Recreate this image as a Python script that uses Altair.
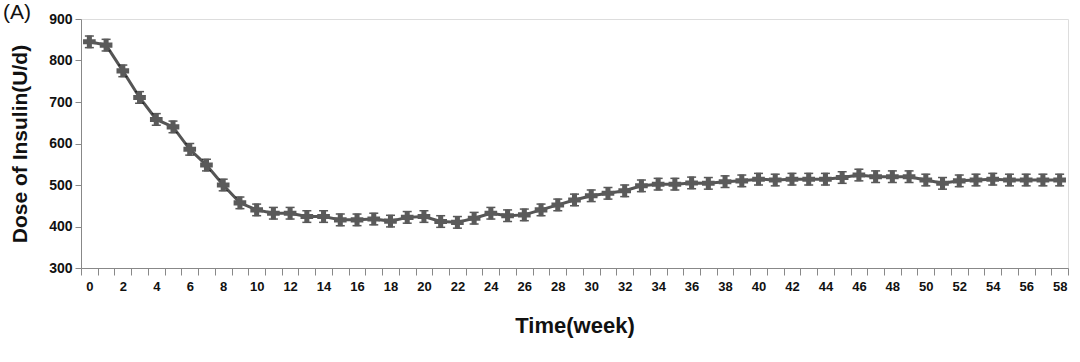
import altair as alt
import pandas as pd

weeks = list(range(0, 59))
dose = [845, 837, 775, 711, 658, 640, 586, 548, 500, 457,
        440, 432, 432, 424, 424, 416, 416, 418, 413, 422,
        424, 412, 410, 420, 432, 426, 428, 440, 452, 464,
        474, 480, 486, 498, 502, 502, 505, 504, 508, 510,
        514, 512, 514, 514, 514, 518, 524, 520, 520, 520,
        512, 504, 510, 512, 514, 512, 512, 512, 512]
err = [14] * len(weeks)

df = pd.DataFrame({"week": weeks, "dose": dose, "err": err})
df["lo"] = df["dose"] - df["err"]
df["hi"] = df["dose"] + df["err"]

xenc = alt.X("week:O",
             scale=alt.Scale(type="band", paddingInner=0, paddingOuter=0),
             sort="ascending",
             axis=alt.Axis(title="Time(week)", labelAngle=0, tickBand="extent",
                           labelExpr="datum.value % 2 == 0 ? datum.label : ''",
                           domainColor="#888", tickColor="#888", tickSize=7,
                           labelFont="Liberation Sans", labelFontSize=13, labelFontWeight="bold",
                           labelColor="#111", labelPadding=5,
                           titleFont="Liberation Sans", titleFontSize=22, titleFontWeight="bold",
                           titleColor="#111", titlePadding=22, grid=False))
yscale = alt.Scale(domain=[300, 900], nice=False)
yaxis = alt.Axis(title="Dose of Insulin(U/d)", values=[300, 400, 500, 600, 700, 800, 900],
                 domainColor="#888", tickColor="#888", tickSize=6,
                 labelFont="Liberation Sans", labelFontSize=14, labelFontWeight="bold",
                 labelColor="#111", labelPadding=3,
                 titleFont="Liberation Sans", titleFontSize=21, titleFontWeight="bold",
                 titleColor="#111", titlePadding=18, grid=False)

base = alt.Chart(df)
line = base.mark_line(color="#555", strokeWidth=3).encode(
    x=xenc, y=alt.Y("dose:Q", scale=yscale, axis=yaxis))
caps_hi = base.mark_tick(color="#111", thickness=1.5, size=9).encode(x="week:O", y="hi:Q")
caps_lo = base.mark_tick(color="#111", thickness=1.5, size=9).encode(x="week:O", y="lo:Q")
rules = base.mark_rule(color="#111", strokeWidth=1).encode(x="week:O", y="lo:Q", y2="hi:Q")
pts = base.mark_point(shape="cross", filled=True, color="#5a5a5a", size=160, opacity=1).encode(
    x="week:O", y="dose:Q")

label = alt.Chart(pd.DataFrame({"t": ["(A)"]})).mark_text(
    align="left", baseline="top", font="Liberation Sans", fontSize=21, color="#111"
).encode(text="t:N", x=alt.value(-78), y=alt.value(-17))

chart = alt.layer(line, rules, caps_hi, caps_lo, pts, label).properties(
    width=987, height=249,
    padding={"left": 81, "top": 19, "right": 12, "bottom": 94},
    autosize="none",
).configure_view(stroke=None).configure(background="white")

chart.save("out.html", embed_options={"renderer": "svg", "actions": False})
